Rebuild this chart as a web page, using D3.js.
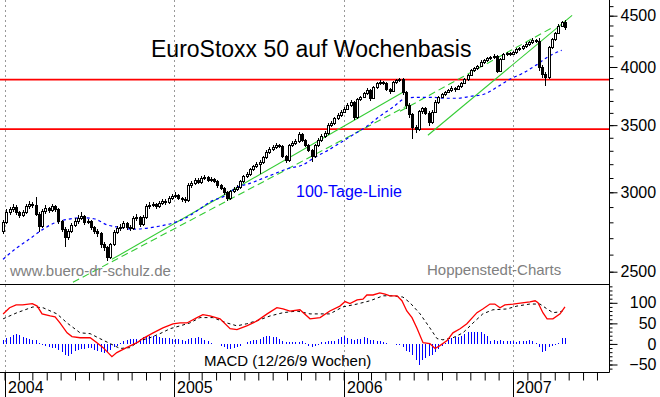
<!DOCTYPE html>
<html><head><meta charset="utf-8">
<script src="https://cdn.jsdelivr.net/npm/d3@7"></script>
<style>body{margin:0;background:#fff}svg{display:block}text{font-family:"Liberation Sans",Arial,sans-serif}</style>
</head><body><svg id="c" width="660" height="397"></svg>
<script>
// ---- data (weekly EuroStoxx 50, first week starting 2003-12-29) ----
const firstWeek = [2003, 11, 29];
const open = [
 2740,2800,2865,2885,2898,2865,2846,2865,2905,2918,
 2911,2852,2775,2872,2892,2879,2905,2885,2807,2756,
 2705,2743,2781,2807,2826,2839,2800,2807,2768,2743,
 2730,2662,2644,2584,2662,2737,2762,2768,2794,2768,
 2762,2826,2833,2787,2833,2905,2911,2918,2905,2925,
 2938,2932,2959,2972,2979,2959,2952,2945,3048,3062,
 3084,3070,3098,3105,3084,3091,3077,3048,3028,3000,
 2959,3007,3021,3034,3077,3112,3126,3163,3185,3199,
 3214,3251,3288,3311,3326,3341,3334,3258,3229,3341,
 3357,3372,3427,3380,3341,3303,3258,3341,3380,3411,
 3435,3499,3515,3555,3580,3605,3630,3664,3689,3563,
 3714,3731,3766,3791,3723,3818,3853,3862,3853,3800,
 3783,3862,3880,3889,3774,3664,3588,3483,3467,3613,
 3638,3597,3523,3605,3689,3731,3757,3774,3791,3809,
 3800,3827,3853,3889,3925,3970,3988,4006,4043,4062,
 4080,4090,4099,3961,4071,4118,4128,4118,4137,4166,
 4176,4195,4214,4234,4253,4244,3997,3934,3907,4185,
 4263,4322,4392,4432];
const high = [
 2815,2885,2900,2918,2913,2875,2880,2920,2938,2933,
 2966,2867,2887,2912,2902,2920,2915,2895,2817,2771,
 2758,2796,2827,2846,2864,2849,2822,2817,2778,2758,
 2740,2677,2654,2672,2752,2777,2788,2809,2804,2783,
 2841,2853,2843,2848,2920,2931,2933,2928,2940,2953,
 2953,2974,2987,2999,2989,2969,2967,3063,3082,3099,
 3099,3113,3120,3115,3106,3101,3087,3058,3038,3010,
 3017,3036,3049,3087,3122,3141,3173,3195,3214,3229,
 3261,3303,3326,3341,3356,3351,3344,3268,3351,3372,
 3387,3443,3437,3390,3351,3313,3351,3395,3426,3450,
 3514,3535,3570,3595,3620,3645,3679,3709,3699,3729,
 3746,3781,3811,3801,3833,3868,3882,3877,3863,3810,
 3877,3895,3904,3899,3784,3679,3598,3498,3628,3653,
 3653,3612,3620,3704,3746,3772,3789,3806,3829,3819,
 3842,3868,3904,3940,3985,4003,4021,4063,4077,4095,
 4105,4119,4109,4086,4133,4143,4138,4152,4181,4191,
 4210,4234,4249,4273,4263,4274,4017,3954,4200,4278,
 4337,4412,4447,4453];
const low = [
 2725,2790,2850,2870,2850,2826,2836,2855,2890,2891,
 2842,2737,2765,2857,2859,2869,2870,2792,2741,2644,
 2690,2733,2771,2792,2816,2785,2790,2753,2723,2710,
 2637,2624,2560,2574,2652,2727,2747,2758,2753,2742,
 2752,2811,2772,2777,2823,2890,2901,2890,2895,2915,
 2917,2922,2944,2962,2944,2937,2925,2935,3033,3052,
 3055,3060,3083,3069,3074,3062,3033,3013,2980,2938,
 2949,2992,3011,3024,3062,3102,3116,3148,3175,3126,
 3204,3241,3273,3301,3311,3319,3243,3209,3219,3326,
 3342,3362,3365,3326,3288,3214,3248,3331,3370,3401,
 3425,3484,3505,3540,3565,3595,3620,3649,3543,3553,
 3699,3721,3751,3703,3713,3803,3838,3838,3785,3758,
 3773,3847,3865,3754,3634,3558,3388,3435,3457,3593,
 3582,3493,3508,3595,3674,3721,3742,3764,3776,3780,
 3790,3812,3843,3874,3915,3955,3973,3996,4028,4047,
 4065,4075,3941,3951,4061,4103,4103,4108,4122,4151,
 4161,4180,4199,4219,4224,3967,3904,3827,3892,4170,
 4248,4312,4382,4357];
const close = [
 2800,2865,2885,2898,2865,2846,2865,2905,2918,2911,
 2852,2775,2872,2892,2879,2905,2885,2807,2756,2705,
 2743,2781,2807,2826,2839,2800,2807,2768,2743,2730,
 2662,2644,2584,2662,2737,2762,2768,2794,2768,2762,
 2826,2833,2787,2833,2905,2911,2918,2905,2925,2938,
 2932,2959,2972,2979,2959,2952,2945,3048,3062,3084,
 3070,3098,3105,3084,3091,3077,3048,3028,3000,2959,
 3007,3021,3034,3077,3112,3126,3163,3185,3199,3214,
 3251,3288,3311,3326,3341,3334,3258,3229,3341,3357,
 3372,3427,3380,3341,3303,3258,3341,3380,3411,3435,
 3499,3515,3555,3580,3605,3630,3664,3689,3563,3714,
 3731,3766,3791,3723,3818,3853,3862,3853,3800,3783,
 3862,3880,3889,3774,3664,3588,3483,3467,3613,3638,
 3597,3523,3605,3689,3731,3757,3774,3791,3809,3800,
 3827,3853,3889,3925,3970,3988,4006,4043,4062,4080,
 4090,4099,3961,4071,4118,4128,4118,4137,4166,4176,
 4195,4214,4234,4253,4244,3997,3934,3907,4185,4263,
 4322,4392,4432,4382];
// 100-Tage-Linie: [week index, value]
const movingAverage = [
 [0,2572],[4,2638],[8,2693],[12,2752],[16,2798],[20,2820],[24,2830],[28,2823],[32,2784],[36,2768],
 [40,2756],[44,2762],[48,2775],[52,2794],[56,2826],[60,2879],[64,2938],[68,2972],[72,3034],[76,3062],
 [80,3098],[84,3134],[88,3170],[92,3192],[96,3251],[100,3303],[104,3364],[108,3427],[112,3491],[116,3572],
 [120,3647],[124,3723],[128,3731],[132,3731],[136,3723],[140,3723],[144,3740],[148,3757],[152,3818],[156,3889],
 [160,3943],[164,4015],[168,4099],[172,4157]];
// MACD line: [week index, value]
const macdLine = [
 [0,73],[2,88],[4,95],[6,95],[9,98],[10.5,92],[12,73],[14.5,68],[16,66],[17.5,51],[19.7,27],[21.2,18],
 [23.7,15],[26.8,15],[28.9,3],[30.8,-9],[33.5,-31],[35,-21],[38,-9],[41.2,3],[43,13],[46.2,27],[49.2,39],
 [52.3,49],[54.5,51],[56.6,51],[59.7,64],[61.5,71],[63.7,68],[66.8,61],[69.9,37],[72,35],[75,44],[78.2,56],
 [81.3,73],[84.3,88],[86.2,85],[88.3,80],[91.4,83],[94.5,61],[97.6,64],[100.6,80],[103.7,92],[105.3,103],
 [106.8,98],[109,107],[110.8,109],[112,119],[113.9,119],[116,124],[117.6,121],[119.1,117],[121.3,117],
 [122.8,105],[124.3,80],[125.9,64],[127.4,39],[129.3,3],[131.4,1],[133,-11],[134.5,-4],[136.7,8],[138.5,27],
 [140.7,37],[142.8,49],[145.9,76],[147.7,85],[149.9,97],[151.4,97],[153,88],[154.5,95],[157,97],[159.8,100],
 [162.2,102],[163.8,105],[164.7,100],[166.2,76],[167.5,61],[169.3,61],[171.5,73],[173,90]];
// Signal line: [week index, value]
const signalLine = [
 [0,61],[4.3,76],[9.2,90],[12.3,88],[16.6,73],[19.7,51],[23.7,27],[26.8,25],[29.8,13],[32.9,1],[36,-11],
 [39,-9],[42.2,8],[45.2,15],[48.3,25],[51.4,37],[54.5,44],[57.5,51],[60.6,64],[64.6,64],[68.9,51],[72,44],
 [75,49],[79.1,59],[82.2,68],[86.2,76],[90.5,80],[94.5,73],[97.6,73],[100.6,73],[104.6,90],[109,97],[113,105],
 [117,117],[120,117],[123.1,114],[125.3,100],[128.4,73],[131.4,39],[133.6,13],[135.4,10],[138.5,15],[141.6,27],
 [144.7,51],[147.7,73],[150.8,83],[155.1,85],[158.2,92],[162.2,97],[165.3,97],[167.5,85],[169.3,76],[171.5,78],[173,83]];
// MACD histogram, one bar per week
const histogram = [
 10,14,18,22,24,22,18,14,11,10,
 10,2,-2,-5,-7,-9,-11,-14,-20,-26,
 -30,-24,-18,-14,-12,-12,-9,-10,-14,-17,
 -19,-22,-20,-14,-8,-4,3,6,9,11,
 12,13,13,16,19,20,20,20,18,15,
 14,14,13,12,12,10,8,11,14,15,
 16,15,10,6,2,1,0,-4,-8,-12,
 -12,-10,-8,-4,0,4,7,9,10,12,
 16,19,20,18,16,12,6,4,4,4,
 4,5,8,2,-5,-8,-6,-2,4,4,
 6,8,8,12,16,20,14,12,10,12,
 12,18,14,10,10,8,6,4,2,0,
 0,-2,-3,-8,-16,-20,-28,-40,-50,-40,
 -34,-30,-28,-20,-12,-4,2,10,14,16,
 18,20,24,28,30,30,28,28,24,20,
 8,10,8,10,8,8,8,6,4,6,
 8,8,10,6,2,-8,-20,-16,-8,-4,
 -2,2,14,15];
const horizontalLines = [3886, 3468];
// trend lines: [[week, price],[week, price]]
const trendLines = [
 [[33.5,2572],[123.1,3774]],
 [[21.5,2440],[125.3,3672]],
 [[130.8,3420],[175.2,4504]],
 [[122.2,3613],[169.3,4382]]];
const priceTicks = [2500,3000,3500,4000,4500];
const priceMinorTicks = [2500,2600,2700,2800,2900,3000,3100,3200,3300,3400,3500,3600,3700,3800,3900,4000,4100,4200,4300,4400,4500,4600];
const macdTicks = [-50,0,50,100];
const yearLabels = ["2004","2005","2006","2007"];
const texts = {
  title:"EuroStoxx 50 auf Wochenbasis", ma:"100-Tage-Linie",
  web:"www.buero-dr-schulz.de", src:"Hoppenstedt-Charts", macd:"MACD (12/26/9 Wochen)"};

// ---- drawing ----
const svg = d3.select("#c");
const W0 = Date.UTC(firstWeek[0], firstWeek[1], firstWeek[2]);
const weekDate = k => new Date(W0 + k*7*864e5);
const x = d3.scaleUtc().domain([new Date(Date.UTC(2004,0,1)), new Date(Date.UTC(2007,0,1))]).range([4.5, 513]);
const y = d3.scaleLog().domain([2500,4500]).range([271.7,15.7]);
const ym = d3.scaleLinear().domain([-50,100]).range([364.5,302.8]);
const AX = 609.5, MAIN_B = 284.5, MACD_B = 372.5;
const green = "#33cc33";

svg.append("rect").attr("width",660).attr("height",397).attr("fill","#fff");
const defs = svg.append("defs");
defs.append("clipPath").attr("id","cm").append("rect").attr("x",0).attr("y",0).attr("width",609).attr("height",284);
defs.append("clipPath").attr("id","cb").append("rect").attr("x",0).attr("y",285).attr("width",609).attr("height",87);

// year gridlines
yearLabels.forEach(yr=>{
  const xx = Math.round(x(new Date(Date.UTC(+yr,0,1))))+0.5;
  svg.append("line").attr("x1",xx).attr("x2",xx).attr("y1",0).attr("y2",372)
    .attr("stroke","#999").attr("stroke-dasharray","2,3");
});

const main = svg.append("g").attr("clip-path","url(#cm)");
// red horizontal lines
horizontalLines.forEach(v=>{
  main.append("line").attr("x1",0).attr("x2",609).attr("y1",y(v)).attr("y2",y(v))
   .attr("stroke","#ff0000").attr("stroke-width",1.6);
});
// trend lines
const tStyles = [null,"7,4",null,"7,4"];
trendLines.forEach((t,i)=>{
  main.append("line").attr("x1",x(weekDate(t[0][0]))).attr("y1",y(t[0][1]))
   .attr("x2",x(weekDate(t[1][0]))).attr("y2",y(t[1][1]))
   .attr("stroke",green).attr("stroke-width",1.1).attr("stroke-dasharray",tStyles[i]);
});
// moving average
main.append("path").datum(movingAverage)
  .attr("d", d3.line().x(d=>x(weekDate(d[0]))).y(d=>y(d[1])).curve(d3.curveMonotoneX))
  .attr("fill","none").attr("stroke","#0000ff").attr("stroke-width",1.2).attr("stroke-dasharray","3,3");
// candles
const cg = main.append("g").attr("shape-rendering","crispEdges");
close.forEach((c,k)=>{
  const cx = Math.round(x(weekDate(k)))+0.5;
  const o = open[k];
  cg.append("line").attr("x1",cx).attr("x2",cx).attr("y1",y(high[k])).attr("y2",y(low[k])).attr("stroke","#000");
  const top = y(Math.max(o,c)), bot = y(Math.min(o,c));
  cg.append("rect").attr("x",cx-1).attr("width",2).attr("y",top).attr("height",Math.max(1,bot-top))
    .attr("fill", c>=o ? "#fff" : "#000").attr("stroke","#000");
});

// MACD panel
const mg = svg.append("g").attr("clip-path","url(#cb)");
const hg = mg.append("g").attr("shape-rendering","crispEdges");
histogram.forEach((v,k)=>{
  const cx = Math.round(x(weekDate(k)))+0.5;
  hg.append("line").attr("x1",cx).attr("x2",cx).attr("y1",ym(0)).attr("y2",ym(v)).attr("stroke","#0000ff");
});
const ml = d3.line().x(d=>x(weekDate(d[0]))).y(d=>ym(d[1]));
mg.append("path").datum(signalLine).attr("d",ml).attr("fill","none").attr("stroke","#000").attr("stroke-width",1).attr("stroke-dasharray","3,3");
mg.append("path").datum(macdLine).attr("d",ml).attr("fill","none").attr("stroke","#ff0000").attr("stroke-width",1.3);

// frame lines
svg.append("line").attr("x1",0).attr("x2",AX).attr("y1",MAIN_B).attr("y2",MAIN_B).attr("stroke","#000");
svg.append("line").attr("x1",0).attr("x2",AX).attr("y1",MACD_B).attr("y2",MACD_B).attr("stroke","#000");
svg.append("line").attr("x1",AX).attr("x2",AX).attr("y1",0).attr("y2",MACD_B).attr("stroke","#000");

// right price axis
const pa = svg.append("g").attr("transform",`translate(${AX},0)`);
pa.call(d3.axisRight(y).tickValues(priceMinorTicks.filter(v=>y(v)>2&&y(v)<283)).tickSize(4).tickFormat("").tickSizeOuter(0));
pa.call(g=>g.select(".domain").remove());
const pa2 = svg.append("g").attr("transform",`translate(${AX},0)`);
pa2.call(d3.axisRight(y).tickValues(priceTicks).tickSize(8).tickPadding(3).tickFormat(d3.format("d")).tickSizeOuter(0));
pa2.select(".domain").remove();
pa2.selectAll("text").attr("font-size",16).attr("font-family","Liberation Sans, Arial, sans-serif").attr("fill","#000");

// right MACD axis
const ma = svg.append("g").attr("transform",`translate(${AX},0)`);
ma.call(d3.axisRight(ym).tickValues(d3.range(-60,141,10).filter(v=>ym(v)>286&&ym(v)<371)).tickSize(3).tickFormat("").tickSizeOuter(0));
ma.select(".domain").remove();
const ma2 = svg.append("g").attr("transform",`translate(${AX},0)`);
ma2.call(d3.axisRight(ym).tickValues(macdTicks).tickSize(8).tickFormat(d3.format("d")).tickSizeOuter(0));
ma2.select(".domain").remove();
ma2.selectAll("text").attr("font-size",16).attr("font-family","Liberation Sans, Arial, sans-serif")
  .attr("fill","#000").attr("text-anchor","end").attr("x",47);

// bottom time axis
const months = d3.utcMonths(new Date(Date.UTC(2004,0,1)), new Date(Date.UTC(2007,6,2)));
const ta = svg.append("g").attr("transform",`translate(0,${MACD_B})`);
ta.call(d3.axisBottom(x).tickValues(months).tickSize(8).tickFormat("").tickSizeOuter(0));
ta.select(".domain").remove();
yearLabels.forEach(yr=>{
  const xx = Math.round(x(new Date(Date.UTC(+yr,0,1))))+0.5;
  svg.append("line").attr("x1",xx).attr("x2",xx).attr("y1",MACD_B).attr("y2",397).attr("stroke","#000");
  svg.append("text").attr("x",xx+2.5).attr("y",393).attr("font-size",16).text(yr);
});

// texts
svg.append("text").attr("x",151).attr("y",57).attr("font-size",23).attr("fill","#000").text(texts.title);
svg.append("text").attr("x",296).attr("y",197).attr("font-size",16).attr("fill","#0000ff").text(texts.ma);
svg.append("text").attr("x",10).attr("y",276).attr("font-size",15).attr("fill","#808080").text(texts.web);
svg.append("text").attr("x",427).attr("y",275).attr("font-size",15).attr("fill","#808080").text(texts.src);
svg.append("text").attr("x",204).attr("y",366).attr("font-size",15).attr("fill","#000").text(texts.macd);
</script></body></html>
